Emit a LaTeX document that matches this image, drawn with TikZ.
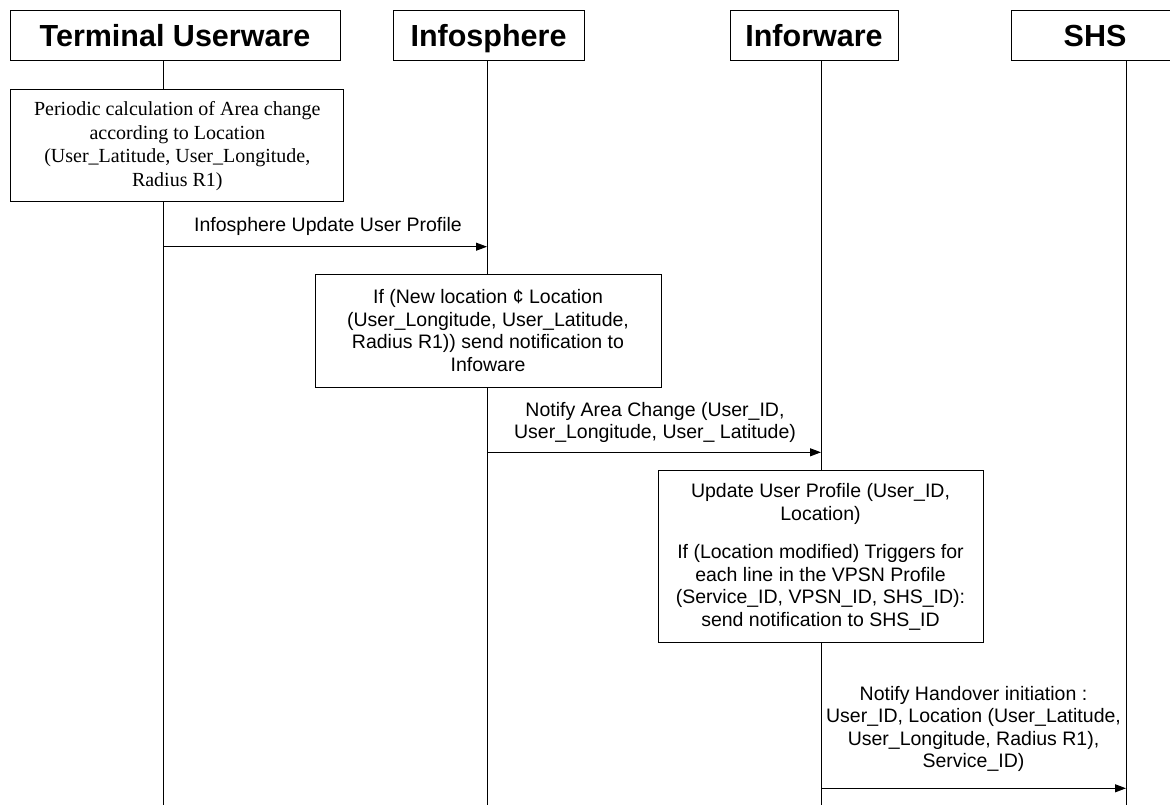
\documentclass[tikz,border=0pt]{standalone}
\usepackage{fontspec}
\setmainfont{Liberation Sans}
\newfontfamily\tnr{Liberation Serif}
\usetikzlibrary{arrows.meta}
\begin{document}
\begin{tikzpicture}[x=1pt,y=-1pt,
  hdr/.style={draw=black,line width=1pt,fill=white,inner sep=0pt,font=\fontsize{30.5}{34}\selectfont\bfseries,minimum height=50pt,text height=25pt,text depth=3pt},
  proc/.style={draw=black,line width=1pt,fill=white,inner sep=0pt,align=center,font=\fontsize{19.5}{22.5}\selectfont},
  life/.style={line width=1pt,draw=black},
  msg/.style={line width=1pt,-{Triangle[length=11pt,width=8pt]}},
  lbl/.style={align=center,inner sep=0pt,font=\fontsize{19.5}{22.5}\selectfont}]
\useasboundingbox (0,0) rectangle (1170,805);
\clip (0,0) rectangle (1170,805);
\fill[white] (0,0) rectangle (1170,805);
% lifelines
\coordinate (tuT) at (163,61);  \coordinate (tuB) at (163,806);
\coordinate (isT) at (487,61);  \coordinate (isB) at (487,806);
\coordinate (iwT) at (821,61);  \coordinate (iwB) at (821,806);
\coordinate (shT) at (1126,61); \coordinate (shB) at (1126,806);
\draw[life] (tuT) -- (tuB);
\draw[life] (isT) -- (isB);
\draw[life] (iwT) -- (iwB);
\draw[life] (shT) -- (shB);
% headers
\node[hdr,minimum width=330pt] (tu) at (175,36) {Terminal Userware};
\node[hdr,minimum width=191pt] (is) at (488.5,35.5) {Infosphere};
\node[hdr,minimum width=168pt] (iw) at (814,36) {Inforware};
\node[hdr,minimum width=168pt] (shs) at (1095,36) {SHS};
% activity boxes
\node[proc,font=\tnr\fontsize{20}{23.5}\selectfont,minimum width=333pt,minimum height=112pt] (pc) at (177.3,146) {Periodic calculation of Area change\\according to Location\\(User\_Latitude, User\_Longitude,\\Radius R1)};
\node[proc,minimum width=346pt,minimum height=113pt] (ifb) at (488,330.5) {If (New location ¢ Location\\(User\_Longitude, User\_Latitude,\\Radius R1)) send notification to\\Infoware};
\node[proc,minimum width=325pt,minimum height=172pt] (upd) at (820.5,556.7) {Update User Profile (User\_ID,\\Location)\\[16pt]If (Location modified) Triggers for\\each line in the VPSN Profile\\(Service\_ID, VPSN\_ID, SHS\_ID):\\send notification to SHS\_ID};
% messages
\coordinate (m1s) at (163,246.7); \coordinate (m1e) at (487,246.7);
\draw[msg] (m1s) -- (m1e);
\node[lbl] (l1) at (328,226.7) {Infosphere Update User Profile};
\coordinate (m2s) at (487,452.3); \coordinate (m2e) at (821,452.3);
\draw[msg] (m2s) -- (m2e);
\node[lbl] (l2) at (655,422.5) {Notify Area Change (User\_ID,\\User\_Longitude, User\_ Latitude)};
\coordinate (m3s) at (821,788.3); \coordinate (m3e) at (1126,788.3);
\draw[msg] (m3s) -- (m3e);
\node[lbl] (l3) at (973.5,729) {Notify Handover initiation :\\User\_ID, Location (User\_Latitude,\\User\_Longitude, Radius R1),\\Service\_ID)};
\end{tikzpicture}
\end{document}
